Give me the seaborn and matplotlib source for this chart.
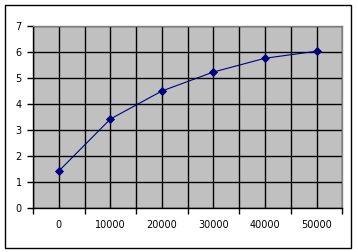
import matplotlib
matplotlib.use("Agg")
import matplotlib.pyplot as plt
import seaborn as sns
import pandas as pd
from matplotlib.patches import Rectangle
from matplotlib.ticker import FixedLocator

categories = ["0", "10000", "20000", "30000", "40000", "50000"]
values = [1.42, 3.42, 4.5, 5.23, 5.76, 6.03]
y_ticks = [0, 1, 2, 3, 4, 5, 6, 7]

sns.set_style("white")
plt.rcParams['font.family'] = ['DejaVu Sans']

df = pd.DataFrame({"cat": categories, "val": values})

fig = plt.figure(figsize=(3.58, 2.52), dpi=100)
fig.patch.set_facecolor("white")
ax = fig.add_axes([33/358, 1 - 208/252, (342.3 - 33)/358, (208 - 26)/252])
ax.set_facecolor("#C0C0C0")

sns.pointplot(data=df, x="cat", y="val", ax=ax, color="#000080",
              markers="D", markersize=4, linewidth=0.8, errorbar=None)

n = len(categories)
ax.set_xlim(-0.5, n - 0.5)
ax.set_ylim(0, 7)
ax.set_yticks(y_ticks)
ax.set_yticklabels([str(t) for t in y_ticks])
ax.xaxis.set_minor_locator(FixedLocator([i - 0.5 for i in range(n + 1)]))
ax.set_xticks(range(n))
ax.set_xticklabels(categories)
ax.set_xlabel("")
ax.set_ylabel("")

ax.grid(True, which="major", axis="both", color="black", linewidth=1)
ax.grid(True, which="minor", axis="x", color="black", linewidth=1)
ax.set_axisbelow(True)

ax.tick_params(axis="y", which="major", length=4, width=1, color="black",
               pad=4, labelsize=7, direction="out", left=True, labelcolor="black")
ax.tick_params(axis="x", which="major", length=0, pad=9, labelsize=7,
               labelcolor="black")
ax.tick_params(axis="x", which="minor", length=4, width=1, color="black",
               direction="out", bottom=True)

for s in ["left", "bottom"]:
    ax.spines[s].set_color("black")
    ax.spines[s].set_linewidth(1)
for s in ["top", "right"]:
    ax.spines[s].set_color("#808080")
    ax.spines[s].set_linewidth(1)

fig.patches.append(Rectangle((5/358, 4/252), 346/358, 243/252,
                             transform=fig.transFigure, fill=False,
                             edgecolor="black", linewidth=1))

fig.savefig("out.png", dpi=100)
